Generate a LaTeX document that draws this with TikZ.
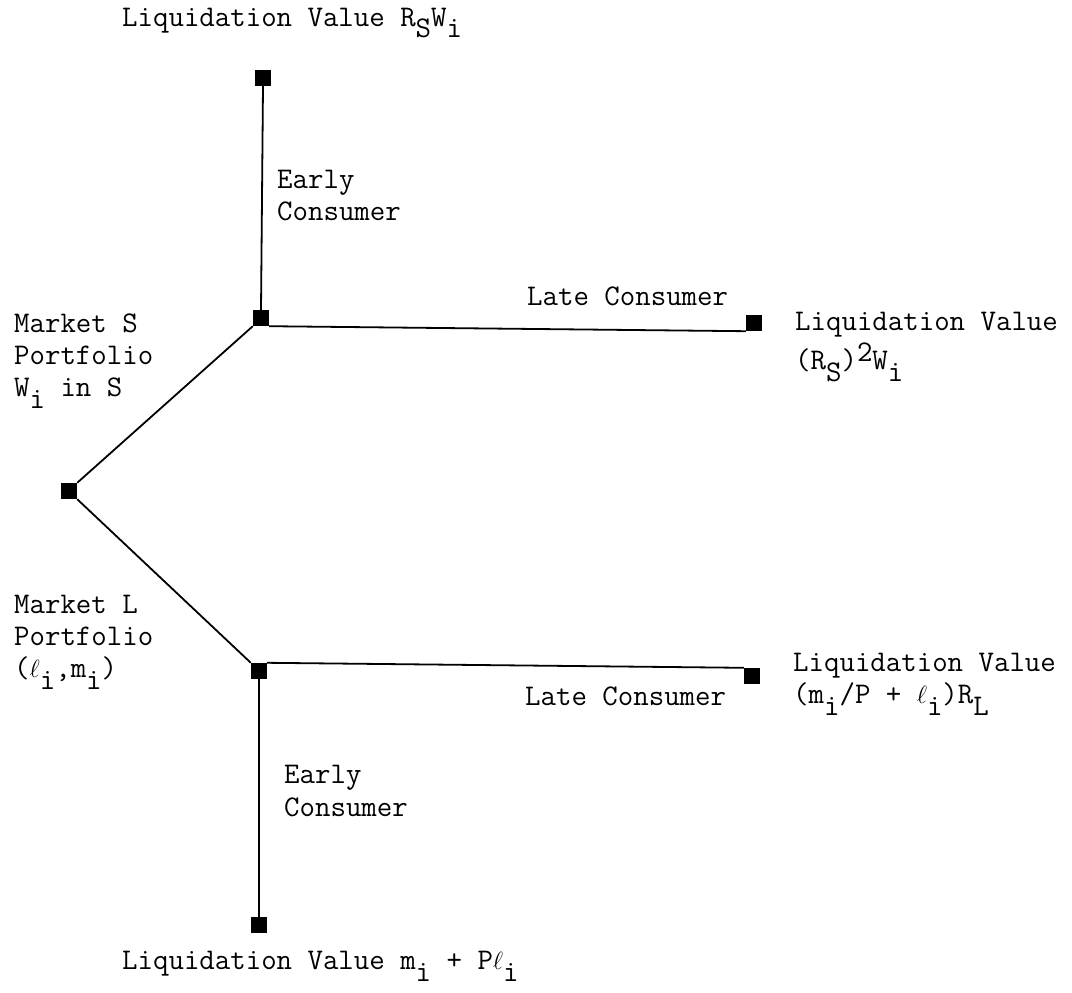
\documentclass[tikz,border=0pt]{standalone}
\usepackage{fontspec}
\newcommand\lowr[1]{\raisebox{-0.4em}{#1}}
\newcommand\highr[1]{\smash{\raisebox{0.25em}{#1}}}
\newcommand\ellx{$\ell$}
\begin{document}
\begin{tikzpicture}[x=1pt,y=-1pt,
  lbl/.style={anchor=base west, inner sep=0pt, font=\ttfamily\fontsize{30}{32}\selectfont},
  sq/.style={rectangle, fill=black, minimum size=16pt, inner sep=0pt},
  ln/.style={line width=1.8pt}]
\useasboundingbox (0,0) rectangle (1072,993);
% squares
\node[sq] (T)  at (263,78) {};
\node[sq] (S)  at (261,318) {};
\node[sq] (RU) at (754,323) {};
\node[sq] (R)  at (69,491) {};
\node[sq] (L)  at (259,671) {};
\node[sq] (RL) at (752,676) {};
\node[sq] (B)  at (259,925) {};
% connectors
\draw[ln] (R.north east) -- (S.south west);
\draw[ln] (R.south east) -- (L.north west);
\draw[ln] (S.north) -- (T.south);
\draw[ln] (S.south east) -- (RU.south west);
\draw[ln] (L.north east) -- (RL.north west);
\draw[ln] (L.south) -- (B.north);
% labels
\node[lbl] (tT) at (122,26) {Liquidation Value R\lowr{S}W\lowr{i}};
\node[lbl] (eu1) at (277,188) {Early};
\node[lbl] (eu2) at (277,220) {Consumer};
\node[lbl] (lu) at (527,305) {Late Consumer};
\node[lbl] (ms1) at (14,332) {Market S};
\node[lbl] (ms2) at (14,364) {Portfolio};
\node[lbl] (ms3) at (14,396) {W\lowr{i} in S};
\node[lbl] (ru1) at (795,330) {Liquidation Value};
\node[lbl] (ru2) at (795,369) {(R\lowr{S})\highr{2}W\lowr{i}};
\node[lbl] (ml1) at (14,613) {Market L};
\node[lbl] (ml2) at (14,645) {Portfolio};
\node[lbl] (ml3) at (14,677) {(\ellx\lowr{i},m\lowr{i})};
\node[lbl] (rl1) at (793,671) {Liquidation Value};
\node[lbl] (rl2) at (793,703) {(m\lowr{i}/P + \ellx\lowr{i})R\lowr{L}};
\node[lbl] (ll) at (525,705) {Late Consumer};
\node[lbl] (el1) at (284,783) {Early};
\node[lbl] (el2) at (284,816) {Consumer};
\node[lbl] (bB) at (122,969) {Liquidation Value m\lowr{i} + P\ellx\lowr{i}};
\end{tikzpicture}
\end{document}
